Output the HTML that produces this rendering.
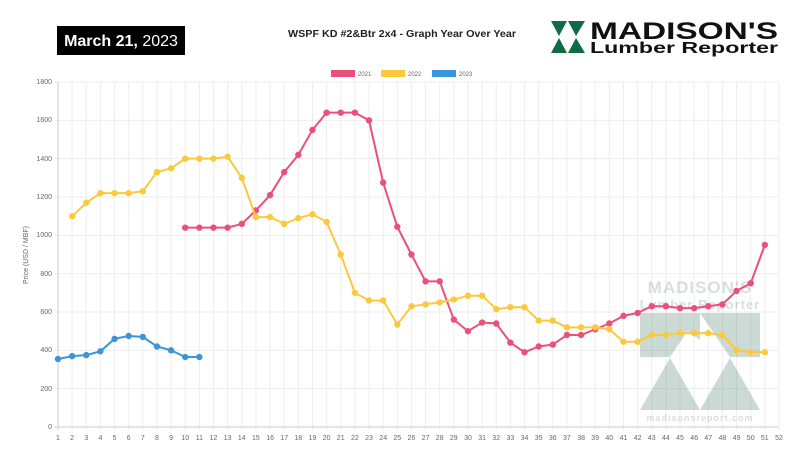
<!DOCTYPE html>
<html><head><meta charset="utf-8"><style>
html,body{margin:0;padding:0;background:#fff;width:801px;height:457px;overflow:hidden}
svg{display:block;font-family:"Liberation Sans",sans-serif}
</style></head><body>
<svg id="s" width="801" height="457" viewBox="0 0 801 457">
<rect width="801" height="457" fill="#fff"/>
<g id="grid"></g>
<g id="wm" opacity="0.28">
<text x="700" y="293" font-size="17" font-weight="bold" fill="#7f8a8a" text-anchor="middle" letter-spacing="1">MADISON'S</text>
<text x="700" y="309" font-size="13" font-weight="bold" fill="#7f8a8a" text-anchor="middle" letter-spacing="1">Lumber Reporter</text>
<polygon points="640,313 700,313 670,357 640,357" fill="#4c7c6c"/>
<polygon points="700,313 760,313 760,357 730,357" fill="#4c7c6c"/>
<polygon points="662,313 700,313 700,340" fill="#4c7c6c"/>
<polygon points="640,410 670,358 700,410" fill="#4c7c6c"/>
<polygon points="700,410 730,358 760,410" fill="#4c7c6c"/>
<text x="700" y="421" font-size="9" font-weight="bold" fill="#7f8a8a" text-anchor="middle" letter-spacing="1">madisonsreport.com</text>
</g>
<g id="data"></g>
<g font-size="7" fill="#666" text-anchor="end">
<text x="52" y="84">1800</text><text x="52" y="122">1600</text><text x="52" y="161">1400</text><text x="52" y="199">1200</text><text x="52" y="237">1000</text><text x="52" y="276">800</text><text x="52" y="314">600</text><text x="52" y="352">400</text><text x="52" y="391">200</text><text x="52" y="429">0</text>
</g>
<text transform="translate(28,255) rotate(-90)" font-size="7" fill="#666" text-anchor="middle">Price (USD / MBF)</text>
<g font-size="7" fill="#666" text-anchor="middle">
<text x="58" y="440">1</text><text x="72.1" y="440">2</text><text x="86.3" y="440">3</text><text x="100.4" y="440">4</text><text x="114.5" y="440">5</text><text x="128.7" y="440">6</text><text x="142.8" y="440">7</text><text x="157" y="440">8</text><text x="171.1" y="440">9</text><text x="185.2" y="440">10</text><text x="199.4" y="440">11</text><text x="213.5" y="440">12</text><text x="227.6" y="440">13</text><text x="241.8" y="440">14</text><text x="255.9" y="440">15</text><text x="270.1" y="440">16</text><text x="284.2" y="440">17</text><text x="298.3" y="440">18</text><text x="312.5" y="440">19</text><text x="326.6" y="440">20</text><text x="340.7" y="440">21</text><text x="354.9" y="440">22</text><text x="369" y="440">23</text><text x="383.2" y="440">24</text><text x="397.3" y="440">25</text><text x="411.4" y="440">26</text><text x="425.6" y="440">27</text><text x="439.7" y="440">28</text><text x="453.8" y="440">29</text><text x="468" y="440">30</text><text x="482.1" y="440">31</text><text x="496.2" y="440">32</text><text x="510.4" y="440">33</text><text x="524.5" y="440">34</text><text x="538.7" y="440">35</text><text x="552.8" y="440">36</text><text x="566.9" y="440">37</text><text x="581.1" y="440">38</text><text x="595.2" y="440">39</text><text x="609.3" y="440">40</text><text x="623.5" y="440">41</text><text x="637.6" y="440">42</text><text x="651.7" y="440">43</text><text x="665.9" y="440">44</text><text x="680" y="440">45</text><text x="694.2" y="440">46</text><text x="708.3" y="440">47</text><text x="722.4" y="440">48</text><text x="736.6" y="440">49</text><text x="750.7" y="440">50</text><text x="764.8" y="440">51</text><text x="779" y="440">52</text>
</g>
<rect x="57" y="26" width="128" height="29" fill="#000"/>
<text x="121" y="46" font-size="16" fill="#fff" text-anchor="middle"><tspan font-weight="bold">March 21,</tspan> 2023</text>
<text x="402" y="37" font-size="10.5" font-weight="bold" fill="#222" text-anchor="middle" textLength="228" lengthAdjust="spacingAndGlyphs">WSPF KD #2&amp;Btr 2x4 - Graph Year Over Year</text>
<g fill="#116b45">
<polygon points="551,21 567,21 559,36"/><polygon points="568,21 585,21 576,36"/>
<polygon points="551,53 559,38 567,53"/><polygon points="568,53 576,38 585,53"/>
</g>
<text x="590" y="39" font-size="24" font-weight="bold" fill="#111" textLength="188" lengthAdjust="spacingAndGlyphs">MADISON'S</text>
<text x="590" y="53" font-size="16" font-weight="bold" fill="#111" textLength="188" lengthAdjust="spacingAndGlyphs">Lumber Reporter</text>
<rect x="331" y="70" width="24" height="7" fill="#e9507a"/><text x="358" y="76" font-size="6" fill="#666">2021</text>
<rect x="381" y="70" width="24" height="7" fill="#fcc93d"/><text x="408" y="76" font-size="6" fill="#666">2022</text>
<rect x="432" y="70" width="24" height="7" fill="#3a96d9"/><text x="459" y="76" font-size="6" fill="#666">2023</text>
</svg>
<script>
var X=function(i){return 58+(i-1)*14.137},Y=function(v){return 427-v*345/1800};
var ns="http://www.w3.org/2000/svg",g=document.getElementById('grid'),d=document.getElementById('data');
function el(p,t,a){var e=document.createElementNS(ns,t);for(var k in a)e.setAttribute(k,a[k]);p.appendChild(e);return e}
for(var i=1;i<=52;i++)el(g,'line',{x1:X(i),x2:X(i),y1:82,y2:430,stroke:'#eee','stroke-width':1});
for(var v=0;v<=1800;v+=200)el(g,'line',{x1:54,x2:779,y1:Y(v),y2:Y(v),stroke:v==0?'#ccc':'#eee','stroke-width':1});
el(g,'line',{x1:58,x2:58,y1:82,y2:430,stroke:'#ccc'});
var s=[[10,'#e9507a',[1040,1040,1040,1040,1060,1130,1210,1330,1420,1550,1640,1640,1640,1600,1275,1045,900,760,760,560,500,545,540,440,390,420,430,480,480,510,540,580,595,630,630,620,620,630,640,710,750,950]],
[2,'#fcc93d',[1100,1170,1220,1220,1220,1230,1330,1350,1400,1400,1400,1410,1300,1095,1095,1060,1090,1110,1070,900,700,660,660,535,630,640,650,665,685,685,615,625,625,555,555,520,520,520,510,445,445,480,480,490,490,490,480,400,390,390]],
[1,'#3a96d9',[355,370,375,395,460,475,470,420,400,365,365]]];
s.forEach(function(q){var pts=q[2].map(function(v,k){return X(q[0]+k)+','+Y(v)}).join(' ');
el(d,'polyline',{points:pts,fill:'none',stroke:q[1],'stroke-width':2});
q[2].forEach(function(v,k){el(d,'circle',{cx:X(q[0]+k),cy:Y(v),r:3.2,fill:q[1]})});});
</script>
</body></html>
